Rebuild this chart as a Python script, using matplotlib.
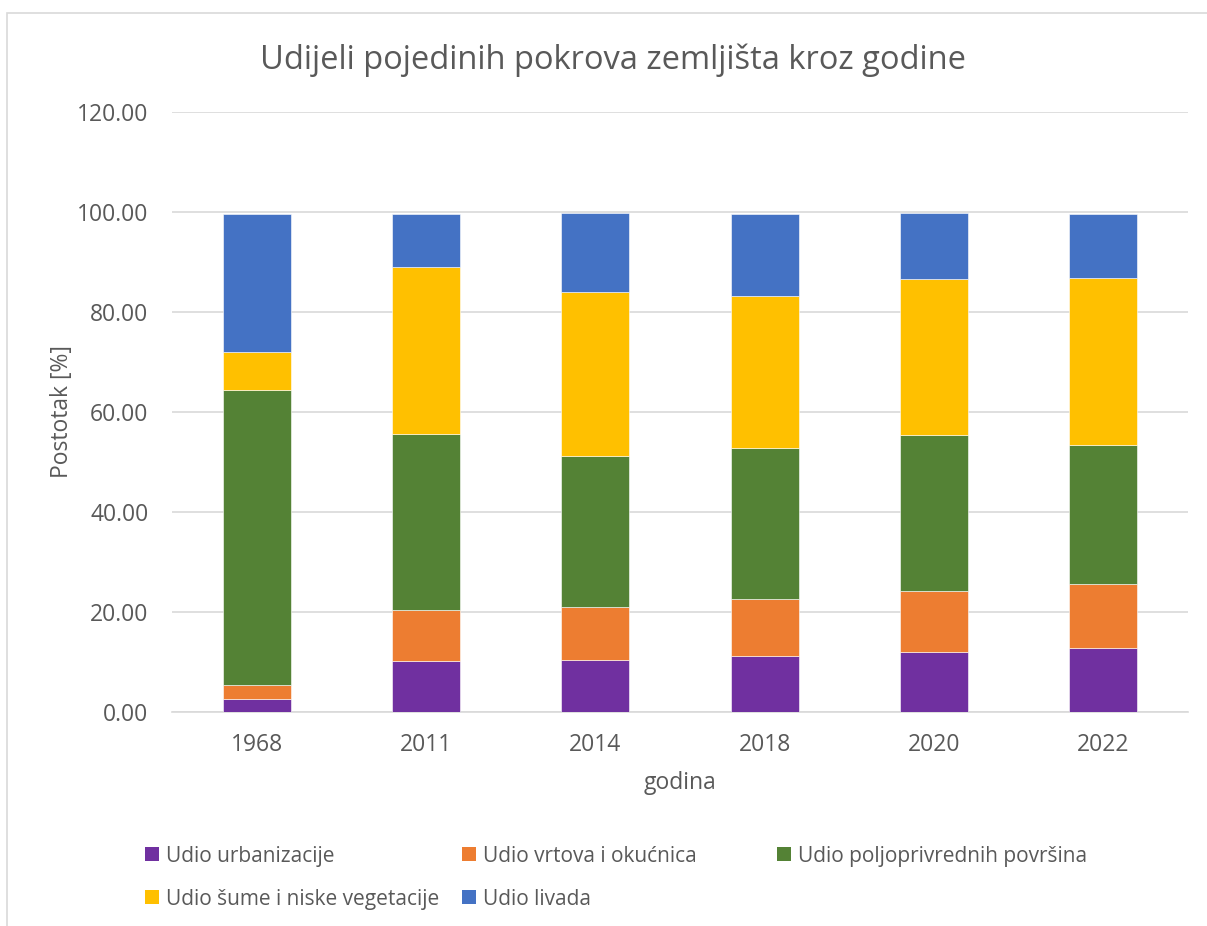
import matplotlib.pyplot as plt
from matplotlib.patches import Rectangle

plt.rcParams['font.family'] = ['Open Sans', 'DejaVu Sans']

godine = ['1968', '2011', '2014', '2018', '2020', '2022']
urbanizacija = [2.62, 10.2, 10.5, 11.3, 12.0, 12.75]
vrtovi = [2.76, 10.2, 10.5, 11.4, 12.3, 12.8]
poljoprivreda = [59.0, 35.3, 30.2, 30.1, 31.0, 27.8]
sume = [7.7, 33.3, 32.7, 30.45, 31.3, 33.4]
livade = [27.6, 10.6, 15.8, 16.4, 13.1, 12.9]

serije = [
    ('Udio urbanizacije', urbanizacija, '#7030a0'),
    ('Udio vrtova i okućnica', vrtovi, '#ed7d31'),
    ('Udio poljoprivrednih površina', poljoprivreda, '#548235'),
    ('Udio šume i niske vegetacije', sume, '#ffc000'),
    ('Udio livada', livade, '#4472c4'),
]
SIVA = '#595959'

W, H = 1207, 926
fig = plt.figure(figsize=(W / 100, H / 100), dpi=100)
fig.patches.append(Rectangle((7 / W, -0.1), 1.2, 1 - 13 / H + 0.1, transform=fig.transFigure,
                             fill=False, edgecolor='#d9d9d9', linewidth=1.2))

ax = fig.add_axes([172 / W, 1 - 712 / H, (1188 - 172) / W, 600 / H])
x = range(len(godine))
dno = [0.0] * len(godine)
for ime, vrijednosti, boja in serije:
    ax.bar(x, vrijednosti, width=0.4, bottom=dno, color=boja, edgecolor='white', linewidth=0.4, zorder=3)
    dno = [d + v for d, v in zip(dno, vrijednosti)]

ax.set_xlim(-0.5, len(godine) - 0.5)
ax.set_ylim(0, 120)
ax.set_yticks(range(0, 121, 20))
ax.set_yticklabels([f'{v:.2f}' for v in range(0, 121, 20)])
ax.set_xticks(list(x))
ax.set_xticklabels(godine)
ax.grid(axis='y', color='#d9d9d9', linewidth=1.2, zorder=0)
for s in ['top', 'right', 'left']:
    ax.spines[s].set_visible(False)
ax.spines['bottom'].set_color('#d9d9d9')
ax.spines['bottom'].set_linewidth(1.2)
ax.tick_params(length=0, labelsize=16.5, labelcolor=SIVA)
ax.tick_params(axis='x', pad=15)
ax.tick_params(axis='y', pad=17)

ax.set_xlabel('godina', fontsize=16.5, color=SIVA, labelpad=10)
ax.set_ylabel('Postotak [%]', fontsize=16.5, color=SIVA, labelpad=2)
fig.text(613 / W, 1 - 60 / H, 'Udijeli pojedinih pokrova zemljišta kroz godine', ha='center', va='center',
         fontsize=23.5, color=SIVA)

# legenda u stilu Excela: stupci jednake širine, redoslijed po redovima
stupci_x = [145, 462, 777]
redovi_y = [854, 897]
for i, (ime, _, boja) in enumerate(serije):
    lx = stupci_x[i % 3]
    ly = redovi_y[i // 3]
    fig.patches.append(Rectangle((lx / W, 1 - (ly + 7) / H), 14 / W, 14 / H, transform=fig.transFigure,
                                 facecolor=boja, edgecolor='none'))
    fig.text((lx + 21) / W, 1 - ly / H, ime, ha='left', va='center_baseline', fontsize=15, color=SIVA)

fig.savefig('out.png', dpi=100)
